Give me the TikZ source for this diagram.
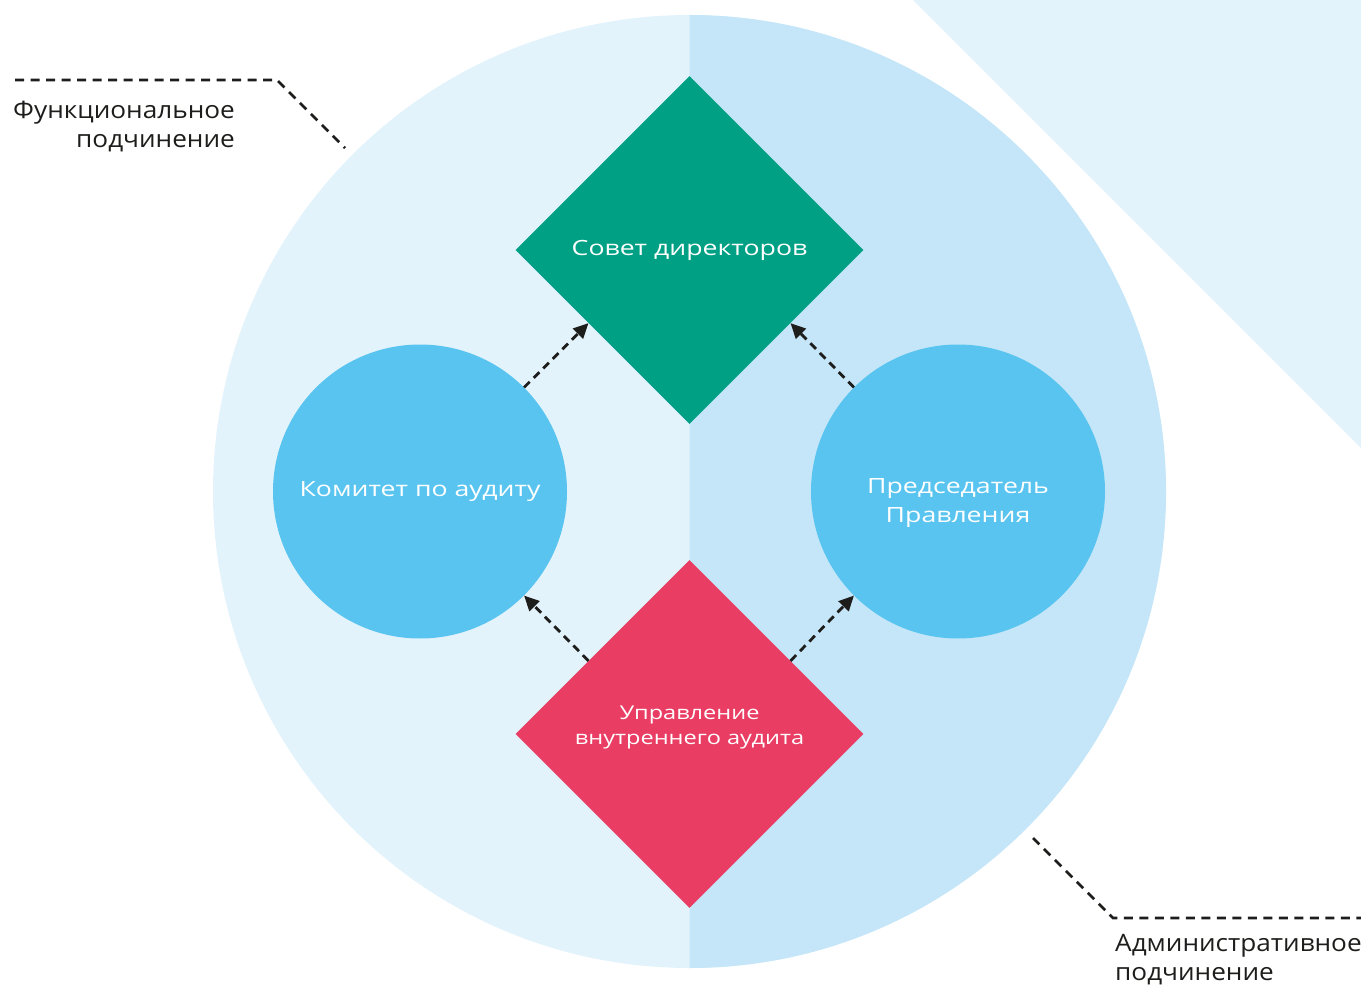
\documentclass[tikz,border=0pt]{standalone}
\usepackage{fontspec}
\setmainfont{Open Sans}
\newfontfamily\shapefont[FakeStretch=1.27]{Open Sans}
\newfontfamily\auditfont[FakeStretch=1.24]{Open Sans}
\newfontfamily\leadfont[FakeStretch=1.09]{Open Sans}
\usetikzlibrary{shapes.geometric,arrows.meta,calc}
\definecolor{halfL}{HTML}{E3F3FC}
\definecolor{halfR}{HTML}{C4E6F8}
\definecolor{boardc}{HTML}{00A085}
\definecolor{auditc}{HTML}{E93D63}
\definecolor{circc}{HTML}{58C4EF}
\definecolor{inkc}{HTML}{1D1D1B}
\begin{document}
\begin{tikzpicture}[x=1pt,y=-1pt,
  conn/.style={draw=inkc, line width=2.8pt, dash pattern=on 8pt off 5.5pt,
    -{Triangle[length=15pt,width=14pt]}},
  lead/.style={draw=inkc, line width=2.8pt, dash pattern=on 9pt off 6.5pt},
  dmd/.style={diamond, aspect=1, minimum width=348pt, minimum height=348pt, inner sep=0pt},
  rnd/.style={circle, fill=circc, minimum size=294pt, inner sep=0pt},
  wlbl/.style={text=white, align=center, inner sep=0pt, font=\shapefont\fontsize{21}{29}\selectfont},
  blbl/.style={text=inkc, inner sep=0pt, font=\leadfont\fontsize{24}{29}\selectfont}]
\useasboundingbox (0,0) rectangle (1361,987);
\fill[halfL] (913,0) -- (1361,0) -- (1361,448) -- cycle;
\fill[halfL] (689.5,491.5) circle (476.5pt);
\begin{scope}
  \clip (689.5,0) rectangle (1361,987);
  \fill[halfR] (689.5,491.5) circle (476.5pt);
\end{scope}
\node[dmd, fill=boardc] (gd) at (689.5,250) {};
\node[dmd, fill=auditc] (rd) at (689.5,734) {};
\node[rnd] (lc) at (420,491.5) {};
\node[rnd] (rc) at (958,491.5) {};
\node[wlbl, anchor=base] (gdt) at (689.5,256) {Совет директоров};
\node[wlbl, anchor=base] (lct) at (420,496) {Комитет по аудиту};
\node[wlbl, anchor=base] (rct) at (958,522) {Председатель\\Правления};
\node[wlbl, anchor=base, font=\auditfont\fontsize{19}{25}\selectfont] (rdt) at (689.5,744) {Управление\\внутреннего аудита};
\draw[conn] (lc.45) -- ($(gd.west)!0.42!(gd.south)$);
\draw[conn] (rc.135) -- ($(gd.east)!0.42!(gd.south)$);
\draw[conn] ($(rd.north)!0.58!(rd.west)$) -- (lc.-45);
\draw[conn] ($(rd.north)!0.58!(rd.east)$) -- (rc.-135);
\coordinate (fa) at (15,80);
\coordinate (fb) at (277,80);
\coordinate (fc) at (345,148);
\draw[lead] (fa) -- (fb) -- (fc);
\coordinate (aa) at (1033,838);
\coordinate (ab) at (1113,918);
\coordinate (ac) at (1361,918);
\draw[lead] (aa) -- (ab) -- (ac);
\node[blbl, anchor=base east, align=right] (ft) at (235,148) {Функциональное\\подчинение};
\node[blbl, anchor=base west, align=left] (at) at (1115,980) {Административное\\подчинение};
\end{tikzpicture}
\end{document}
